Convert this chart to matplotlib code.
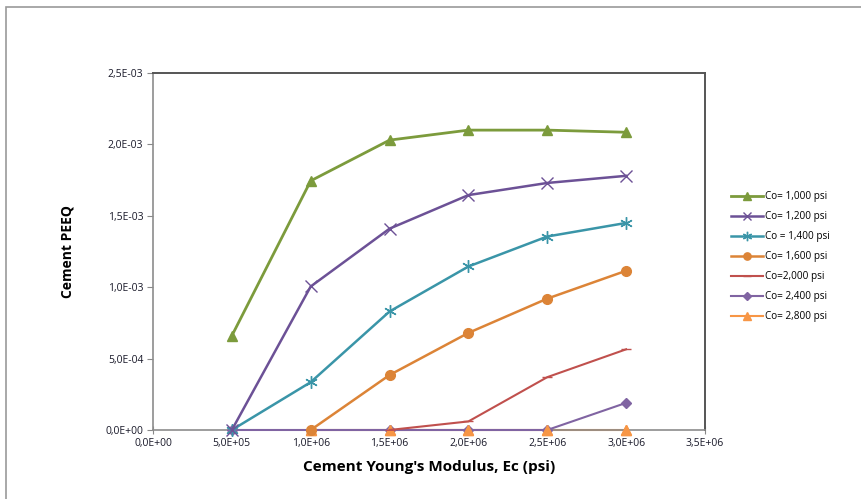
import matplotlib.pyplot as plt
from matplotlib.patches import Rectangle
from matplotlib.ticker import FuncFormatter, MultipleLocator

plt.rcParams['font.family'] = ['Open Sans', 'DejaVu Sans']

# cement young's modulus (psi)
ec = [5.0e5, 1.0e6, 1.5e6, 2.0e6, 2.5e6, 3.0e6]

co_1000 = [6.6e-4, 1.745e-3, 2.03e-3, 2.10e-3, 2.10e-3, 2.085e-3]
co_1200 = [0.0, 1.005e-3, 1.41e-3, 1.645e-3, 1.73e-3, 1.78e-3]
co_1400 = [0.0, 3.35e-4, 8.3e-4, 1.145e-3, 1.355e-3, 1.45e-3]
co_1600 = [0.0, 3.85e-4, 6.8e-4, 9.2e-4, 1.115e-3]
co_2000 = [0.0, 6.0e-5, 3.7e-4, 5.65e-4]
co_2400 = [0.0, 0.0, 0.0, 0.0, 0.0, 1.9e-4]
co_2800 = [0.0, 0.0, 0.0, 0.0, 0.0]

labels = ['Co= 1,000 psi', 'Co= 1,200 psi', 'Co = 1,400 psi', 'Co= 1,600 psi',
          'Co=2,000 psi', 'Co= 2,400 psi', 'Co= 2,800 psi']

fig = plt.figure(figsize=(8.61, 4.99), dpi=100)
ax = fig.add_axes([0.1777, 0.1383, 0.6411, 0.7154])

# outer chart border
fig.patches.append(Rectangle((0.007, -0.05), 1.05, 1.036, transform=fig.transFigure,
                             fill=False, edgecolor='#9a9a9a', linewidth=1.2))

l7, = ax.plot(ec[1:], co_2800, color='#f79646', marker='^', markersize=7.5, lw=1.5,
              zorder=2, clip_on=False)
l6, = ax.plot(ec, co_2400, color='#8064a2', marker='D', markersize=5, lw=1.5,
              zorder=3, clip_on=False)
# orange triangles sit on top of the purple line
ax.plot(ec[1:], co_2800, color='#f79646', marker='^', markersize=7.5, lw=0,
        zorder=3.5, clip_on=False)
l5, = ax.plot(ec[2:], co_2000, color='#c0504d', marker='_', markersize=7, lw=1.5, zorder=4)
l4, = ax.plot(ec[1:], co_1600, color='#dc8437', marker='o', markersize=7, lw=1.8,
              zorder=5, clip_on=False)
l3, = ax.plot(ec, co_1400, color='#3a95a8', marker=(6, 2, 0), markersize=9, lw=1.8,
              markeredgewidth=1.0, zorder=6, clip_on=False)
l2, = ax.plot(ec, co_1200, color='#6c5196', marker='x', markersize=8, lw=1.8,
              markeredgewidth=1.0, zorder=7, clip_on=False)
l1, = ax.plot(ec, co_1000, color='#7c9b3c', marker='^', markersize=7.5, lw=2.0, zorder=8)

ax.set_xlim(0, 3.5e6)
ax.set_ylim(0, 2.5e-3)
ax.xaxis.set_major_locator(MultipleLocator(5e5))
ax.yaxis.set_major_locator(MultipleLocator(5e-4))

def sci_comma(v, pos):
    return ('%.1E' % v).replace('.', ',')

ax.xaxis.set_major_formatter(FuncFormatter(sci_comma))
ax.yaxis.set_major_formatter(FuncFormatter(sci_comma))
ax.tick_params(labelsize=7.5, length=4, color='#888888', labelcolor='#1a1a2a', pad=3)
ax.tick_params(axis='x', direction='inout', length=6)
ax.tick_params(axis='y', direction='out')

for side in ['left', 'bottom']:
    ax.spines[side].set_color('#8c8c8c')
    ax.spines[side].set_linewidth(1.2)
for side in ['top', 'right']:
    ax.spines[side].set_color('#555555')
    ax.spines[side].set_linewidth(1.4)

ax.set_xlabel("Cement Young's Modulus, Ec (psi)", fontsize=11, fontweight='bold', labelpad=8)
ax.set_ylabel('Cement PEEQ', fontsize=10, fontweight='bold', labelpad=22)

fig.legend([l1, l2, l3, l4, l5, l6, l7], labels, loc='upper left',
           bbox_to_anchor=(0.838, 0.635), frameon=False, fontsize=7.2,
           handlelength=3.2, labelspacing=0.9, handletextpad=0.2, markerscale=0.75)

fig.savefig('out.png', dpi=100)
